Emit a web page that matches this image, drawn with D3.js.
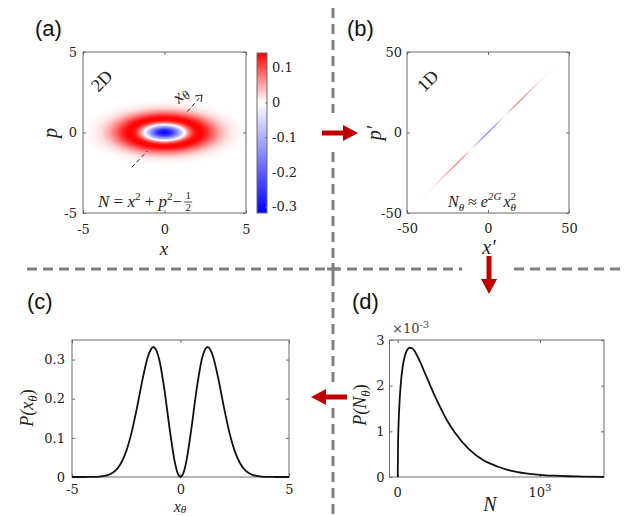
<!DOCTYPE html>
<html><head><meta charset="utf-8">
<script src="https://cdn.jsdelivr.net/npm/d3@7/dist/d3.min.js"></script>
<style>body{margin:0;background:#fff}svg{display:block}</style>
</head><body>
<svg id="c" width="629" height="516"></svg>
<script>
// ---------------- data ----------------
// (a) radial profile of the (squeezed) Wigner function, read from colour levels
const profileRho = [0, 0.25, 0.5, 0.6, 0.707, 0.85, 1.0, 1.1, 1.225, 1.35, 1.5, 1.75, 2.0, 2.25, 2.5, 2.75, 3.0];
const profileW   = [-0.318, -0.262, -0.124, -0.062, 0, 0.069, 0.117, 0.135, 0.142, 0.136, 0.117, 0.076, 0.041, 0.018, 0.007, 0.0025, 0.0007];
const colorMin = -0.318, colorMax = 0.142;
const colorbarTicks = [0.1, 0, -0.1, -0.2, -0.3];
const quadTicks = [-5, 0, 5];
const rotTicks = [-50, 0, 50];
// (c) P(x_theta)
const pxX = [-5, -4.5, -4.25, -4, -3.75, -3.5, -3.25, -3, -2.75, -2.5, -2.25, -2, -1.75, -1.5, -1.25, -1, -0.75, -0.5, -0.25, -0.125, 0,
             0.125, 0.25, 0.5, 0.75, 1, 1.25, 1.5, 1.75, 2, 2.25, 2.5, 2.75, 3, 3.25, 3.5, 3.75, 4, 4.25, 4.5, 5];
const pxY = [0, 0.00002, 0.0001, 0.0003, 0.0010, 0.0028, 0.0071, 0.0164, 0.0346, 0.0661, 0.1146, 0.1786, 0.2493, 0.3080, 0.3321, 0.3046, 0.2267, 0.1231, 0.0347, 0.0089, 0,
             0.0089, 0.0347, 0.1231, 0.2267, 0.3046, 0.3321, 0.3080, 0.2493, 0.1786, 0.1146, 0.0661, 0.0346, 0.0164, 0.0071, 0.0028, 0.0010, 0.0003, 0.0001, 0.00002, 0];
const pxTicksY = [0, 0.1, 0.2, 0.3];
// (d) P(N_theta), values in units of 1e-3
const nVals  = [0, 2, 5, 10, 20, 35, 50, 70, 86, 100, 120, 150, 200, 250, 300, 350, 400, 500, 600, 700, 800, 900, 1000, 1100, 1200, 1300, 1450];
const pnVals = [0, 0.70, 1.09, 1.49, 1.99, 2.42, 2.65, 2.80, 2.83, 2.82, 2.75, 2.57, 2.21, 1.85, 1.52, 1.22, 0.98, 0.61, 0.37, 0.23, 0.135, 0.080, 0.047, 0.028, 0.016, 0.009, 0.004];
const pnTicksY = [0, 1, 2, 3];
const pnTicksX = [0, 1000];

// ---------------- setup ----------------
const svg = d3.select('#c');
const AX = '#6a6a6a';
const NUM = '"DejaVu Serif", serif';
const MATH = '"Liberation Serif", "DejaVu Serif", serif';
const SANS = '"Liberation Sans", Arial, sans-serif';
const RED = '#c00000';
const DASH = '#808080';
const defs = svg.append('defs');

function cmap(v) {
  return v >= 0 ? d3.interpolateRgb('#ffffff', '#ff0000')(Math.min(1, v / colorMax))
                : d3.interpolateRgb('#ffffff', '#0000ff')(Math.min(1, v / colorMin));
}

function frame(x, y, xt, yt, xpad, ypad, showXLabels) {
  const g = svg.append('g');
  const [x0, x1] = x.range(), [y0, y1] = y.range();
  const styl = s => {
    s.attr('font-family', NUM).attr('font-size', 13).attr('fill', null);
    s.select('.domain').remove();
    s.selectAll('line').attr('stroke', AX);
    s.selectAll('text').attr('fill', '#222');
  };
  g.append('g').attr('transform', `translate(0,${y0})`)
    .call(d3.axisBottom(x).tickValues(xt).tickSize(-3).tickPadding(xpad).tickFormat(d => showXLabels ? String(d) : '')).call(styl);
  g.append('g').attr('transform', `translate(0,${y1})`)
    .call(d3.axisTop(x).tickValues(xt).tickSize(-3).tickFormat('')).call(styl);
  g.append('g').attr('transform', `translate(${x0},0)`)
    .call(d3.axisLeft(y).tickValues(yt).tickSize(-3).tickPadding(ypad).tickFormat(d => String(d))).call(styl);
  g.append('g').attr('transform', `translate(${x1},0)`)
    .call(d3.axisRight(y).tickValues(yt).tickSize(-3).tickFormat('')).call(styl);
  g.append('rect').attr('x', x0).attr('y', y1).attr('width', x1 - x0).attr('height', y0 - y1)
    .attr('fill', 'none').attr('stroke', AX).attr('stroke-width', 1);
  return g;
}

function label(txt, x, y, opts = {}) {
  const t = svg.append('text').attr('x', x).attr('y', y)
    .attr('font-family', opts.font || MATH).attr('font-size', opts.size || 18)
    .attr('font-style', opts.italic === false ? 'normal' : 'italic')
    .attr('text-anchor', opts.anchor || 'middle').attr('fill', opts.fill || '#222');
  if (txt) t.text(txt);
  if (opts.rotate) t.attr('transform', `rotate(${opts.rotate},${x},${y})`);
  return t;
}

// ---------------- panel (a) ----------------
const xA = d3.scaleLinear([-5, 5], [83, 246]);
const yA = d3.scaleLinear([-5, 5], [213, 52]);
const squeezeX = 1.75, squeezeP = 0.7; // semi-axis per unit rho
const rhoMax = profileRho[profileRho.length - 1];
const rg = defs.append('radialGradient').attr('id', 'wg');
profileRho.forEach((r, i) => rg.append('stop').attr('offset', r / rhoMax).attr('stop-color', cmap(profileW[i])));
defs.append('clipPath').attr('id', 'clipA').append('rect')
  .attr('x', xA(-5)).attr('y', yA(5)).attr('width', xA(5) - xA(-5)).attr('height', yA(-5) - yA(5));
svg.append('ellipse').attr('clip-path', 'url(#clipA)')
  .attr('cx', xA(0)).attr('cy', yA(0))
  .attr('rx', xA(squeezeX * rhoMax) - xA(0)).attr('ry', yA(0) - yA(squeezeP * rhoMax))
  .attr('fill', 'url(#wg)');
frame(xA, yA, quadTicks, quadTicks, 12, 6, true);

// colorbar
const cbY = d3.scaleLinear([colorMin, colorMax], [213, 53]);
const lg = defs.append('linearGradient').attr('id', 'cbg').attr('x1', 0).attr('y1', 1).attr('x2', 0).attr('y2', 0);
[colorMin, 0, colorMax].forEach(v => lg.append('stop').attr('offset', (v - colorMin) / (colorMax - colorMin)).attr('stop-color', cmap(v)));
svg.append('rect').attr('x', 257).attr('y', cbY(colorMax)).attr('width', 10).attr('height', cbY(colorMin) - cbY(colorMax))
  .attr('fill', 'url(#cbg)').attr('stroke', AX);
svg.append('g').attr('transform', 'translate(267,0)')
  .call(d3.axisRight(cbY).tickValues(colorbarTicks).tickSize(-2).tickPadding(5).tickFormat(d => String(d)))
  .call(s => { s.attr('font-family', NUM).attr('font-size', 13); s.select('.domain').remove(); s.selectAll('line').attr('stroke', AX); s.selectAll('text').attr('fill', '#222'); });

// x_theta dashed arrow
const dirA = [[-2.0, -2.15, -1.05, -1.15], [1.4, 1.3, 2.3, 2.33]];
dirA.forEach(d => svg.append('line').attr('x1', xA(d[0])).attr('y1', yA(d[1])).attr('x2', xA(d[2])).attr('y2', yA(d[3]))
  .attr('stroke', '#222').attr('stroke-width', 1).attr('stroke-dasharray', '4,3'));
{
  const tx = xA(2.3), ty = yA(2.33);
  svg.append('path').attr('d', `M${tx - 7},${ty + 1}L${tx},${ty}L${tx - 1},${ty + 7}`).attr('fill', 'none').attr('stroke', '#222').attr('stroke-width', 1);
}
label('', 184, 99, { size: 18, rotate: -45 }).call(t => {
  t.append('tspan').text('x');
  t.append('tspan').attr('font-size', 13).attr('dy', 3).text('θ');
});
label('2D', 106, 85, { size: 18, italic: false, rotate: -45 });
{
  const t = label('', 98, 207, { size: 17, anchor: 'start' });
  t.append('tspan').text('N');
  t.append('tspan').attr('font-style', 'normal').text(' = ');
  t.append('tspan').text('x');
  t.append('tspan').attr('font-style', 'normal').attr('font-size', 11).attr('dy', -7).text('2');
  t.append('tspan').attr('font-style', 'normal').attr('dy', 7).text(' + ');
  t.append('tspan').text('p');
  t.append('tspan').attr('font-style', 'normal').attr('font-size', 11).attr('dy', -7).text('2');
  t.append('tspan').attr('font-style', 'normal').attr('dy', 7).text('−');
  const w = t.node().getComputedTextLength();
  const fx = 98 + w + 6;
  label('1', fx, 199, { size: 11, italic: false });
  svg.append('line').attr('x1', fx - 4).attr('x2', fx + 4).attr('y1', 202).attr('y2', 202).attr('stroke', '#222').attr('stroke-width', 0.8);
  label('2', fx, 211, { size: 11, italic: false });
}
label('x', 164, 255, { size: 19 });
label('p', 57, 133, { size: 20, rotate: -90 });
label('(a)', 35, 36, { font: SANS, size: 22, italic: false, anchor: 'start', fill: '#111' });

// ---------------- panel (b) ----------------
const xB = d3.scaleLinear([-50, 50], [407, 569]);
const yB = d3.scaleLinear([-50, 50], [213, 52]);
const lineEnd = 46, lineScale = lineEnd / rhoMax;
const bg = defs.append('linearGradient').attr('id', 'lineg').attr('gradientUnits', 'userSpaceOnUse')
  .attr('x1', xB(-lineEnd)).attr('y1', yB(-lineEnd)).attr('x2', xB(lineEnd)).attr('y2', yB(lineEnd));
const stopsB = [];
for (let i = profileRho.length - 1; i > 0; i--) stopsB.push([-profileRho[i] * lineScale, profileW[i]]);
profileRho.forEach((r, i) => stopsB.push([r * lineScale, profileW[i]]));
stopsB.forEach(s => bg.append('stop').attr('offset', (s[0] + lineEnd) / (2 * lineEnd)).attr('stop-color', cmap(s[1])));
svg.append('line').attr('x1', xB(-lineEnd)).attr('y1', yB(-lineEnd)).attr('x2', xB(lineEnd)).attr('y2', yB(lineEnd))
  .attr('stroke', 'url(#lineg)').attr('stroke-width', 1.3).attr('stroke-opacity', 0.5);
frame(xB, yB, rotTicks, rotTicks, 11, 5, true);
label('1D', 432, 85, { size: 18, italic: false, rotate: -45 });
{
  const t = label('', 448, 207, { size: 16, anchor: 'start' });
  t.append('tspan').text('N');
  t.append('tspan').attr('font-size', 11).attr('dy', 4).text('θ');
  t.append('tspan').attr('font-style', 'normal').attr('dy', -4).text(' ≈ ');
  t.append('tspan').text('e');
  t.append('tspan').attr('font-size', 11).attr('dy', -7).text('2G');
  t.append('tspan').attr('dy', 7).attr('dx', 2).text('x');
  t.append('tspan').attr('font-style', 'normal').attr('font-size', 11).attr('dy', -7).text('2');
  t.append('tspan').attr('font-size', 11).attr('dy', 11).attr('dx', -5.5).text('θ');
}
label('x′', 489, 254, { size: 20 });
label('p′', 381, 133, { size: 20, rotate: -90 });
label('(b)', 347, 36, { font: SANS, size: 22, italic: false, anchor: 'start', fill: '#111' });

// ---------------- panel (c) ----------------
const xC = d3.scaleLinear([-5, 5], [72, 289]);
const yC = d3.scaleLinear([0, 0.35], [477, 340]);
frame(xC, yC, quadTicks, pxTicksY, 8, 7, true);
svg.append('path').datum(pxX.map((v, i) => [v, pxY[i]]))
  .attr('d', d3.line().x(d => xC(d[0])).y(d => yC(d[1])).curve(d3.curveMonotoneX))
  .attr('fill', 'none').attr('stroke', '#111').attr('stroke-width', 1.8);
label('', 33, 408, { size: 18, rotate: -90 }).call(t => {
  t.append('tspan').text('P(x');
  t.append('tspan').attr('font-size', 13).attr('dy', 4).text('θ');
  t.append('tspan').attr('dy', -4).attr('font-style', 'normal').text(')');
});
label('', 180, 512, { size: 16 }).call(t => { t.append('tspan').text('x'); t.append('tspan').attr('font-size', 11).attr('dy', 1).text('θ'); });
label('(c)', 27, 309, { font: SANS, size: 22, italic: false, anchor: 'start', fill: '#111' });

// ---------------- panel (d) ----------------
const xD = d3.scaleLinear([-58, 1450], [389.5, 604]);
const yD = d3.scaleLinear([0, 3], [477, 340]);
frame(xD, yD, pnTicksX, pnTicksY, 10, 5, false);
svg.append('path').datum(nVals.map((v, i) => [v, pnVals[i]]))
  .attr('d', d3.line().x(d => xD(d[0])).y(d => yD(d[1])).curve(d3.curveMonotoneX))
  .attr('fill', 'none').attr('stroke', '#111').attr('stroke-width', 1.8);
pnTicksX.forEach(v => {
  const t = svg.append('text').attr('x', xD(v)).attr('y', 497).attr('text-anchor', 'middle')
    .attr('font-family', NUM).attr('font-size', 13).attr('fill', '#222');
  if (v === 0) t.text('0');
  else { t.append('tspan').text('10'); t.append('tspan').attr('font-size', 10).attr('dy', -6).text(String(Math.log10(v))); }
});
{
  const t = svg.append('text').attr('x', 392).attr('y', 333).attr('font-family', NUM).attr('font-size', 13).attr('fill', '#444');
  t.append('tspan').text('×10');
  t.append('tspan').attr('font-size', 10).attr('dy', -5).text('-3');
}
label('', 366, 405, { size: 18, rotate: -90 }).call(t => {
  t.append('tspan').text('P(N');
  t.append('tspan').attr('font-size', 13).attr('dy', 4).text('θ');
  t.append('tspan').attr('dy', -4).attr('font-style', 'normal').text(')');
});
label('N', 490, 511, { size: 20 });
label('(d)', 352, 309, { font: SANS, size: 22, italic: false, anchor: 'start', fill: '#111' });

// ---------------- separators and arrows ----------------
const sep = (x1, y1, x2, y2) => svg.append('line').attr('x1', x1).attr('y1', y1).attr('x2', x2).attr('y2', y2)
  .attr('stroke', DASH).attr('stroke-width', 3).attr('stroke-dasharray', '10,6');
sep(27, 269, 462, 269);
sep(514, 269, 626, 269);
sep(333, 8, 333, 113);
sep(333, 152, 333, 262);
sep(333, 276, 333, 386);
sep(333, 408, 333, 516);
svg.append('path').attr('d', 'M327,269H339M333,263V276').attr('stroke', DASH).attr('stroke-width', 3);

function arrow(x1, y1, x2, y2) {
  const ang = Math.atan2(y2 - y1, x2 - x1), len = Math.hypot(x2 - x1, y2 - y1);
  const hl = 15, hw = 8, sw = 2.5;
  const g = svg.append('g').attr('transform', `translate(${x1},${y1}) rotate(${ang * 180 / Math.PI})`);
  g.append('path').attr('d', `M0,${-sw}H${len - hl}V${-hw}L${len},0L${len - hl},${hw}V${sw}H0Z`).attr('fill', RED);
}
arrow(322, 133, 358, 133);
arrow(489, 256, 489, 294);
arrow(347, 397, 311, 397);
</script>
</body></html>
